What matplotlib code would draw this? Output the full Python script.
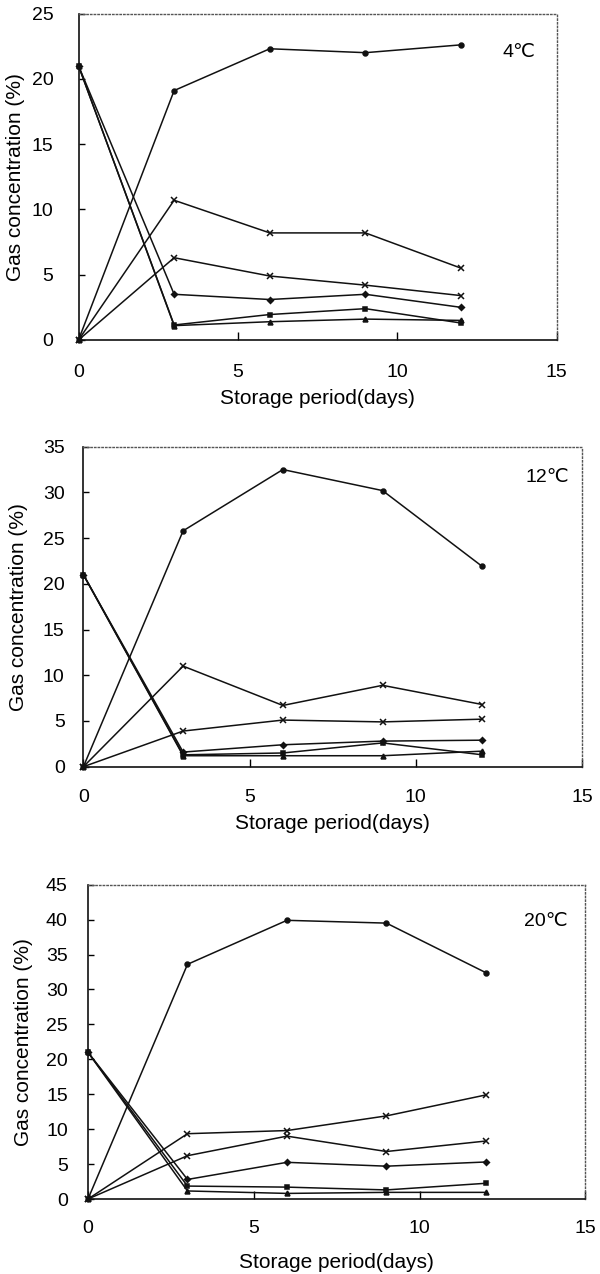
import matplotlib
matplotlib.use('Agg')
import matplotlib.pyplot as plt

plt.rcParams['font.family'] = ['Liberation Sans', 'DejaVu Sans']

# ------------------------------------------------------------
# datos
# ------------------------------------------------------------
days = [0, 3, 6, 9, 12]

# 4 C
t4_a = [0, 19.1, 22.3, 22.0, 22.6]
t4_b = [0, 10.7, 8.2, 8.2, 5.5]
t4_c = [0, 6.3, 4.9, 4.2, 3.4]
t4_d = [21, 3.5, 3.1, 3.5, 2.5]
t4_e = [21, 1.15, 1.95, 2.4, 1.3]
t4_f = [21, 1.1, 1.4, 1.6, 1.5]

# 12 C
t12_a = [0, 25.8, 32.5, 30.2, 21.9]
t12_b = [0, 11.0, 6.7, 8.9, 6.8]
t12_c = [0, 3.9, 5.1, 4.9, 5.2]
t12_d = [21, 1.6, 2.4, 2.8, 2.9]
t12_e = [21, 1.3, 1.5, 2.6, 1.3]
t12_f = [21, 1.2, 1.2, 1.2, 1.7]

# 20 C
t20_a = [0, 33.6, 39.9, 39.5, 32.4]
t20_b = [0, 9.35, 9.8, 11.9, 14.9]
t20_c = [0, 6.2, 9.0, 6.8, 8.3]
t20_d = [21, 2.8, 5.25, 4.7, 5.3]
t20_e = [21, 1.85, 1.7, 1.3, 2.25]
t20_f = [21, 1.15, 0.8, 0.95, 0.95]

panels = [
    ('4\u2103', 25, [t4_a, t4_b, t4_c, t4_d, t4_e, t4_f]),
    ('12\u2103', 35, [t12_a, t12_b, t12_c, t12_d, t12_e, t12_f]),
    ('20\u2103', 45, [t20_a, t20_b, t20_c, t20_d, t20_e, t20_f]),
]

# estilo de cada serie: (marker, size)
styles = [('o', 3.5), ('x', 4.5), ('x', 4.0), ('D', 3.0), ('s', 3.5), ('^', 3.5)]

# posiciones de los ejes en pixeles (left, right, top, bottom)
W, H = 600, 1274
boxes = [(78.5, 556.7, 13.5, 340.0),
         (83.4, 582.0, 446.7, 766.7),
         (88.0, 585.4, 884.7, 1199.0)]
temp_pos = [(0.92, 0.88), (0.93, 0.905), (0.92, 0.882)]
ylabel_x = [25, 28, 33]      # borde derecho del ylabel (px)
xtick_pad = [17, 16, 15]
ytick_pad = [18, 13.5, 14.5]
xlabel_pad = [6, 6, 12]

fig = plt.figure(figsize=(W / 100, H / 100), dpi=100)

for i, (temp, ymax, series) in enumerate(panels):
    l, r, t, b = boxes[i]
    ax = fig.add_axes([l / W, 1 - b / H, (r - l) / W, (b - t) / H])

    for vals, (mk, ms) in zip(series, styles):
        ax.plot(days, vals, color='#111111', lw=1.1, marker=mk, ms=ms,
                mew=1.1, clip_on=False, zorder=3)

    ax.set_xlim(0, 15)
    ax.set_ylim(0, ymax)
    ax.set_xticks([0, 5, 10, 15])
    ax.set_yticks(range(0, ymax + 1, 5))
    ax.tick_params(axis='x', direction='in', length=6, width=1,
                   labelsize=14, pad=xtick_pad[i])
    ax.tick_params(axis='y', direction='in', length=4, width=1,
                   labelsize=14, pad=ytick_pad[i])

    for side in ['left', 'bottom']:
        ax.spines[side].set_linewidth(1.2)
        ax.spines[side].set_color('#111111')
    for side in ['top', 'right']:
        ax.spines[side].set_linestyle(':')
        ax.spines[side].set_linewidth(1.0)
        ax.spines[side].set_color('#555555')

    ax.set_xlabel('Storage period(days)', fontsize=15, labelpad=xlabel_pad[i])
    ax.set_ylabel('Gas concentration (%)', fontsize=15)
    ax.yaxis.set_label_coords((ylabel_x[i] - l) / (r - l), 0.5)

    ax.text(temp_pos[i][0], temp_pos[i][1], temp, transform=ax.transAxes,
            fontsize=14, ha='center', va='center')

plt.savefig('out.png', dpi=100)
